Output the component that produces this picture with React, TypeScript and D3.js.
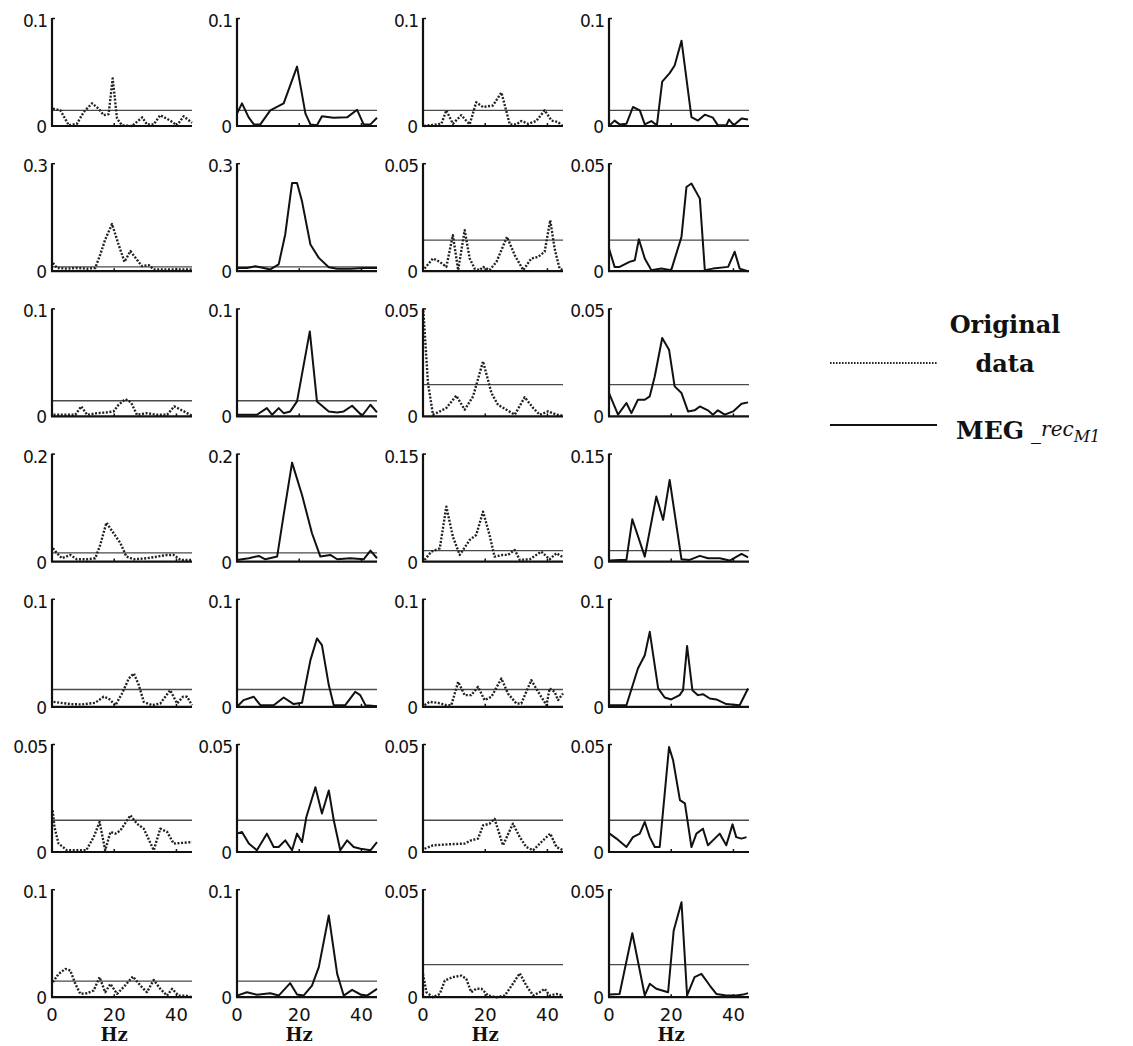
import React from 'react';
import * as d3 from 'd3';

type Pt = [number, number]; // [Hz, power]

const HZ_MAX = 45;
const X_TICKS = [0, 20, 40];
const X_LABEL = 'Hz';

// y-axis maximum per row (columns: orig A, rec A, orig B, rec B)
const ROW_YMAX: number[][] = [
  [0.1, 0.1, 0.1, 0.1],
  [0.3, 0.3, 0.05, 0.05],
  [0.1, 0.1, 0.05, 0.05],
  [0.2, 0.2, 0.15, 0.15],
  [0.1, 0.1, 0.1, 0.1],
  [0.05, 0.05, 0.05, 0.05],
  [0.1, 0.1, 0.05, 0.05],
];

// significance threshold (thin horizontal line) per panel
const ROW_THRESH: number[][] = [
  [0.0145, 0.0145, 0.0145, 0.0145],
  [0.012, 0.012, 0.0144, 0.0144],
  [0.0145, 0.0145, 0.0147, 0.0147],
  [0.016, 0.016, 0.0153, 0.0153],
  [0.016, 0.016, 0.016, 0.016],
  [0.0147, 0.0147, 0.0147, 0.0147],
  [0.0148, 0.0148, 0.0151, 0.0151],
];

// ---- Row 1
const r1c1: Pt[] = [[0.3,0.016],[2.7,0.0145],[5.4,0.0006],[8,0.002],[10.2,0.013],[12.9,0.021],[15,0.016],[16.6,0.010],[18.2,0.011],[19.5,0.044],[20.9,0.007],[22.5,0.0006],[25.7,0],[29,0.008],[30.5,0.0015],[32.7,0.0015],[34.8,0.010],[38,0.005],[40.2,0.0006],[42.3,0.009],[45,0.003]];
const r1c2: Pt[] = [[0,0.0115],[1.6,0.021],[3.75,0.008],[5.4,0.0015],[7.5,0.0015],[10.7,0.0145],[15,0.021],[19.3,0.055],[22,0.0115],[23.6,0.0015],[25.7,0.0006],[27.3,0.009],[31,0.0077],[35.4,0.008],[38.6,0.015],[40.7,0.0015],[42.9,0.0015],[45,0.0077]];
const r1c3: Pt[] = [[0.3,0],[5.9,0.002],[7.5,0.0145],[9.6,0.002],[12.3,0.010],[15,0.0015],[17.1,0.022],[19.3,0.0175],[22.5,0.019],[25.2,0.031],[27.9,0.0015],[30,0.0015],[31.6,0.0046],[33.8,0.002],[36.4,0.0046],[39.1,0.0145],[41.3,0.005],[43.4,0.0037],[44.8,0]];
const r1c4: Pt[] = [[0.2,0.0006],[1.8,0.005],[3.4,0.0015],[5.6,0.002],[7.7,0.0176],[9.9,0.0145],[11.5,0.0015],[13.6,0.0046],[15.4,0.0006],[17.1,0.041],[19.5,0.049],[21.1,0.056],[23.3,0.079],[26.5,0.0083],[28.6,0.005],[30.8,0.0105],[33.4,0.0077],[35,0.0006],[37.7,0.0006],[38.6,0.006],[40.1,0.0006],[42.6,0.007],[44.7,0.006]];

// ---- Row 2
const r2c1: Pt[] = [[0.3,0.023],[1.6,0.009],[4.8,0.007],[8,0.009],[11.3,0.007],[13.9,0.009],[15.5,0.046],[17.1,0.088],[19.3,0.131],[21.4,0.074],[23.3,0.026],[25.2,0.056],[27.3,0.032],[28.9,0.014],[31.1,0.017],[32.7,0.005],[35.9,0.005],[39.1,0.005],[42.3,0.005],[45,0.005]];
const r2c2: Pt[] = [[0,0.009],[3.2,0.009],[5.9,0.014],[8.6,0.009],[10.7,0.005],[13.4,0.019],[15.5,0.102],[17.7,0.245],[19.3,0.245],[20.9,0.194],[23.6,0.074],[26.3,0.037],[29.5,0.011],[32.2,0.007],[36.4,0.007],[40.7,0.009],[45,0.009]];
const r2c3: Pt[] = [[0.5,0.0012],[3.2,0.0059],[5.4,0.0043],[7.5,0.002],[9.6,0.0167],[11.3,0.0005],[13.4,0.019],[15,0.0059],[16.6,0.0012],[18.2,0.0005],[19.3,0.002],[21.4,0.0005],[23.6,0.0043],[27,0.0159],[29.5,0.0074],[32.2,0.0005],[34.8,0.0059],[37,0.0066],[39.1,0.009],[40.9,0.0236],[42.3,0.0105],[43.9,0.0012],[45,0.0005]];
const r2c4: Pt[] = [[0,0.0105],[1.8,0.002],[3.4,0.002],[6.6,0.0043],[8.3,0.0051],[9.6,0.0148],[11.5,0.0059],[13.6,0.0005],[16.8,0.0012],[20,0.0005],[23.3,0.0159],[24.9,0.039],[26.5,0.0406],[29.2,0.0336],[30.8,0.0005],[33.4,0.0012],[38.3,0.002],[40.4,0.009],[42,0.0012],[44.7,0]];

// ---- Row 3
const r3c1: Pt[] = [[0.5,0.0015],[3.8,0.0015],[7.5,0.0015],[9.4,0.0093],[11.3,0.0015],[14.5,0.003],[17.7,0.0037],[19.8,0.0046],[21.4,0.0108],[23.6,0.016],[25.4,0.013],[27.3,0.0015],[30.5,0.003],[33.8,0.0015],[37,0.0015],[39.3,0.0093],[41.8,0.0056],[45,0.0006]];
const r3c2: Pt[] = [[0,0.0015],[6.4,0.0015],[9.6,0.0077],[11.3,0.0015],[13.4,0.0077],[15,0.003],[17.1,0.0046],[19.3,0.0139],[23.4,0.0787],[25.7,0.0139],[29.5,0.0046],[32.2,0.0037],[34.3,0.0046],[37,0.0099],[40.2,0.0006],[42.9,0.0108],[45,0.0037]];
const r3c3: Pt[] = [[0.1,0.049],[1.6,0.0154],[3.2,0.0008],[5.4,0.0023],[7.5,0.0039],[10.7,0.0096],[13.4,0.0031],[16.1,0.0093],[19.3,0.0255],[22,0.0108],[24.1,0.0054],[26.8,0.0031],[29.5,0.0008],[32.7,0.0089],[35.4,0.0039],[37.5,0.0008],[40.2,0.0023],[42.9,0.0008],[45,0.0003]];
const r3c4: Pt[] = [[0,0.0108],[2.9,0.0008],[5.6,0.0062],[7.2,0.0015],[9.3,0.0077],[11.5,0.0077],[13.1,0.0093],[14.7,0.0185],[17.1,0.0363],[19.3,0.0309],[21.1,0.0139],[23.3,0.0108],[25.4,0.0023],[27.5,0.0028],[29.2,0.0046],[31.8,0.0028],[33.4,0.0008],[35,0.0028],[37.2,0.0008],[39.9,0.0023],[42.6,0.0059],[44.7,0.0065]];

// ---- Row 4
const r4c1: Pt[] = [[0.3,0.0247],[1.6,0.0154],[3.2,0.0062],[5.9,0.0123],[8,0.0043],[11.3,0.0043],[13.9,0.0062],[15.5,0.0309],[17.5,0.0722],[19.8,0.0525],[22,0.034],[23.9,0.0093],[26.3,0.0043],[30.5,0.0062],[33.8,0.0093],[37,0.0123],[39.1,0.0123],[41.3,0.0031],[45,0.0031]];
const r4c2: Pt[] = [[0,0.0031],[3.8,0.0062],[7,0.0105],[9.1,0.0043],[12.9,0.0093],[15,0.0864],[17.7,0.1833],[20.9,0.1234],[24.1,0.0525],[26.8,0.0093],[30,0.0123],[32.2,0.0043],[36.4,0.0062],[40.7,0.0043],[42.9,0.0204],[45,0.0062]];
const r4c3: Pt[] = [[0.5,0.0023],[2.7,0.0139],[5.4,0.0185],[7.5,0.0764],[9.6,0.0347],[11.8,0.0093],[15,0.0301],[17.1,0.037],[19.3,0.0694],[21.4,0.037],[23,0.0069],[25.7,0.0093],[27.3,0.0093],[29.5,0.0162],[31.1,0.0023],[34.3,0.0032],[38,0.0139],[40.7,0.0032],[42.9,0.0116],[45,0.006]];
const r4c4: Pt[] = [[0,0.0014],[3.4,0.0023],[5.6,0.0023],[7.5,0.0588],[11.5,0.0069],[15.2,0.0903],[17.4,0.0579],[19.5,0.1134],[23.3,0.0032],[25.9,0.0023],[29.2,0.0079],[31.8,0.0046],[35.6,0.0046],[38.8,0.0014],[42.6,0.0106],[44.7,0.006]];

// ---- Row 5
const r5c1: Pt[] = [[0.5,0.0046],[2.7,0.0037],[5.9,0.0025],[9.6,0.0022],[13.9,0.0037],[16.6,0.0093],[18.2,0.0077],[20.4,0.0015],[22.5,0.0123],[24.7,0.0262],[26.3,0.0309],[27.9,0.0201],[29.5,0.0046],[32.2,0.0015],[34.8,0.0031],[38,0.0154],[40.2,0.0031],[42.1,0.0093],[43.4,0.0093],[45,0.0015]];
const r5c2: Pt[] = [[0,0],[2.1,0.0062],[5.4,0.0093],[7.5,0.0015],[11.8,0.0015],[15,0.0086],[18.2,0.0025],[20.9,0.0037],[23.6,0.0432],[25.7,0.0633],[27.3,0.0571],[29.5,0.0201],[31.1,0.0015],[34.8,0.0015],[38,0.0139],[39.6,0.0108],[41.3,0.0015],[45,0.0006]];
const r5c3: Pt[] = [[0.5,0.0015],[2.1,0.0046],[4.8,0.0037],[7.5,0.0015],[9.1,0.0015],[11.3,0.0231],[13.4,0.0108],[15.5,0.0108],[17.7,0.0185],[19.8,0.0062],[22,0.0093],[25.2,0.0262],[27.3,0.0123],[30,0.0031],[31.6,0.0031],[34.8,0.0247],[37,0.0139],[39.7,0.0015],[40.7,0.017],[42.3,0.0139],[43.4,0.0062],[45,0.0123]];
const r5c4: Pt[] = [[0.2,0.0015],[5.6,0.0015],[9.3,0.0355],[11.5,0.0478],[13.1,0.0694],[15.8,0.017],[17.9,0.0086],[20,0.0068],[22.7,0.0108],[23.8,0.0154],[25.1,0.0562],[26.8,0.0154],[28.6,0.0108],[30.2,0.0117],[32.4,0.0077],[34.5,0.0068],[37.7,0.0025],[42,0.0015],[44.7,0.017]];

// ---- Row 6
const r6c1: Pt[] = [[0.2,0.0193],[0.8,0.0116],[2.1,0.0039],[4.8,0.0008],[8,0.0008],[11,0.0008],[13.4,0.0069],[15.3,0.0139],[17.1,0.0008],[18.8,0.0093],[20.4,0.0085],[22,0.01],[25.2,0.017],[27.3,0.0131],[29.5,0.0108],[32.7,0.0008],[34.8,0.0108],[37,0.0093],[39.1,0.0039],[41.8,0.0042],[45,0.0046]];
const r6c2: Pt[] = [[0,0.0085],[1.6,0.0093],[3.8,0.0039],[6.4,0.0008],[9.6,0.0085],[11.8,0.0023],[13.4,0.0023],[15.5,0.0054],[17.7,0.0008],[19.3,0.0085],[20.9,0.0046],[22.3,0.0162],[25.2,0.030],[27.3,0.0178],[29.5,0.0285],[31.1,0.0147],[33.2,0.0008],[35.4,0.0054],[37.5,0.0023],[39.7,0.0015],[42.9,0.0008],[45,0.0046]];
const r6c3: Pt[] = [[0.5,0.0015],[3.2,0.0031],[7.5,0.0035],[13.4,0.0039],[15.5,0.0054],[17.7,0.0062],[19.3,0.0123],[21.4,0.0131],[23,0.0154],[25.7,0.0031],[28.9,0.0131],[31.1,0.0069],[33.2,0.0023],[35.4,0.0008],[38.6,0.0054],[40.9,0.0085],[42.9,0.0023],[45,0.0008]];
const r6c4: Pt[] = [[0.2,0.0085],[2.4,0.0062],[5.6,0.0023],[7.7,0.0069],[9.9,0.0085],[11.5,0.0139],[13.1,0.0069],[14.7,0.0023],[16.3,0.0023],[19.3,0.0486],[20.6,0.0425],[22.8,0.024],[24.4,0.0225],[26.5,0.0023],[28.1,0.0085],[30.2,0.0108],[31.8,0.0031],[33.4,0.0054],[35.6,0.0085],[37.7,0.0031],[39.7,0.0128],[40.9,0.0069],[42.6,0.0062],[44.2,0.0069]];

// ---- Row 7
const r7c1: Pt[] = [[0.3,0.0139],[2.1,0.0216],[4.3,0.0262],[5.9,0.0247],[7.5,0.0123],[9.1,0.0031],[11.3,0.0037],[13.4,0.0062],[15.3,0.0185],[17.1,0.0046],[18.8,0.0123],[20.9,0.0031],[23,0.0093],[26,0.0191],[28.4,0.0108],[30.5,0.0046],[32.7,0.016],[34.8,0.0077],[37,0.0015],[38.6,0.0077],[40.7,0.0015],[42.9,0.0015],[45,0]];
const r7c2: Pt[] = [[0,0.0015],[3.2,0.0046],[6.4,0.0022],[10.7,0.0037],[13.4,0.0015],[17.1,0.013],[19.3,0.0025],[21.4,0.0015],[24.1,0.0108],[26.3,0.0278],[29.5,0.0756],[32.2,0.0216],[34.3,0.0015],[37,0.0068],[39.7,0.0025],[41.8,0.0015],[45,0.0077]];
const r7c3: Pt[] = [[0,0.0108],[1.1,0.0023],[3.2,0],[5.4,0.0015],[7,0.0077],[9.6,0.0093],[12.3,0.01],[13.9,0.0085],[15.5,0.0023],[17.1,0.0039],[18.8,0.0039],[20.9,0.0008],[23.6,0],[26.3,0.0008],[28.9,0.0062],[31.1,0.0111],[33.2,0.0054],[35.4,0.0008],[37.5,0.0023],[39.1,0.0039],[40.7,0.0008],[42.9,0.0015],[45,0.0008]];
const r7c4: Pt[] = [[0.2,0.0012],[3.4,0.0015],[7.5,0.0296],[11.5,0.0008],[13.1,0.0062],[15.2,0.0039],[19,0.0023],[20.8,0.0309],[23.3,0.044],[25.1,0.0008],[27.5,0.0093],[29.7,0.0108],[32.4,0.0054],[34.5,0.0015],[37.7,0.0008],[40.9,0.0008],[43.1,0.0012],[44.7,0.0019]];

const ROW_SERIES: Pt[][][] = [
  [r1c1, r1c2, r1c3, r1c4],
  [r2c1, r2c2, r2c3, r2c4],
  [r3c1, r3c2, r3c3, r3c4],
  [r4c1, r4c2, r4c3, r4c4],
  [r5c1, r5c2, r5c3, r5c4],
  [r6c1, r6c2, r6c3, r6c4],
  [r7c1, r7c2, r7c3, r7c4],
];

// columns 1 & 3 = original data (dotted), 2 & 4 = MEG_rec (solid)
const COL_IS_ORIGINAL = [true, false, true, false];

const LEGEND_ORIG = ['Original', 'data'];
const LEGEND_REC = { main: 'MEG', sep: '_', sub1: 'rec', sub2: 'M1' };

const COL_X = [52, 237, 423, 609];
const PW = 140;
const PH = 108;
const BASE0 = 126;
const ROW_STEP = 145.2;

const TICK_FONT = '"DejaVu Sans", sans-serif';
const SERIF = '"DejaVu Serif", serif';

function Panel(props: {
  x0: number; base: number; ymax: number; thr: number; data: Pt[];
  dotted: boolean; showX: boolean;
}) {
  const { x0, base, ymax, thr, data, dotted, showX } = props;
  const xs = d3.scaleLinear().domain([0, HZ_MAX]).range([0, PW]);
  const ys = d3.scaleLinear().domain([0, ymax]).range([PH, 0]);
  const line = d3.line<Pt>().x((d) => xs(d[0])).y((d) => ys(d[1]));
  return (
    <g transform={`translate(${x0},${base - PH})`}>
      <line x1={0} x2={PW} y1={ys(thr)} y2={ys(thr)} stroke="#4a4a4a" strokeWidth={1.3} />
      <path
        d={line(data) || ''}
        fill="none"
        stroke={dotted ? '#222' : '#111'}
        strokeWidth={dotted ? 2.4 : 2}
        strokeDasharray={dotted ? '2 1.6' : undefined}
        strokeLinejoin="round"
      />
      <line x1={0} x2={0} y1={0} y2={PH} stroke="#111" strokeWidth={2.2} />
      <line x1={-1} x2={PW} y1={PH} y2={PH} stroke="#111" strokeWidth={2.2} />
      <line x1={0} x2={3} y1={0.5} y2={0.5} stroke="#111" strokeWidth={1.5} />
      {X_TICKS.map((t) => (
        <line key={t} x1={xs(t)} x2={xs(t)} y1={PH} y2={PH - 3} stroke="#111" strokeWidth={1.5} />
      ))}
      <text x={-5} y={9} textAnchor="end" fontFamily={TICK_FONT} fontSize={17} letterSpacing={-1} fill="#111">
        {String(ymax)}
      </text>
      <text x={-5} y={PH + 7} textAnchor="end" fontFamily={TICK_FONT} fontSize={17} fill="#111">
        0
      </text>
      {showX && (
        <g>
          {X_TICKS.map((t) => (
            <text key={t} x={xs(t)} y={PH + 24} textAnchor="middle" fontFamily={TICK_FONT} fontSize={18} fill="#111">
              {t}
            </text>
          ))}
          <text x={xs(20)} y={PH + 44} textAnchor="middle" fontFamily={SERIF} fontWeight="bold" fontSize={18} fill="#111">
            {X_LABEL}
          </text>
        </g>
      )}
    </g>
  );
}

export default function App() {
  const nRows = ROW_SERIES.length;
  return (
    <svg
      width={1133}
      height={1046}
      viewBox="0 0 1133 1046"
      style={{ position: 'absolute', left: 0, top: 0, background: '#fff' }}
    >
      <rect width={1133} height={1046} fill="#fff" />
      {ROW_SERIES.map((row, r) =>
        row.map((data, c) => (
          <Panel
            key={`${r}-${c}`}
            x0={COL_X[c]}
            base={BASE0 + r * ROW_STEP}
            ymax={ROW_YMAX[r][c]}
            thr={ROW_THRESH[r][c]}
            data={data}
            dotted={COL_IS_ORIGINAL[c]}
            showX={r === nRows - 1}
          />
        ))
      )}
      <g>
        <line x1={830} x2={937} y1={363} y2={363} stroke="#2a2a2a" strokeWidth={2} strokeDasharray="1.6 1.4" />
        <text x={1005} y={333} textAnchor="middle" fontFamily={SERIF} fontWeight="bold" fontSize={24} fill="#111">
          {LEGEND_ORIG[0]}
        </text>
        <text x={1005} y={372} textAnchor="middle" fontFamily={SERIF} fontWeight="bold" fontSize={24} fill="#111">
          {LEGEND_ORIG[1]}
        </text>
        <line x1={830} x2={937} y1={425} y2={425} stroke="#111" strokeWidth={2} />
        <text x={956} y={439} fontFamily={SERIF} fill="#111">
          <tspan fontWeight="bold" fontSize={25}>{LEGEND_REC.main}</tspan>
          <tspan fontSize={20} dx={7}>{LEGEND_REC.sep}</tspan>
          <tspan fontStyle="italic" fontSize={20} dy={-3}>{LEGEND_REC.sub1}</tspan>
          <tspan fontStyle="italic" fontSize={16} dy={6}>{LEGEND_REC.sub2}</tspan>
        </text>
      </g>
    </svg>
  );
}
